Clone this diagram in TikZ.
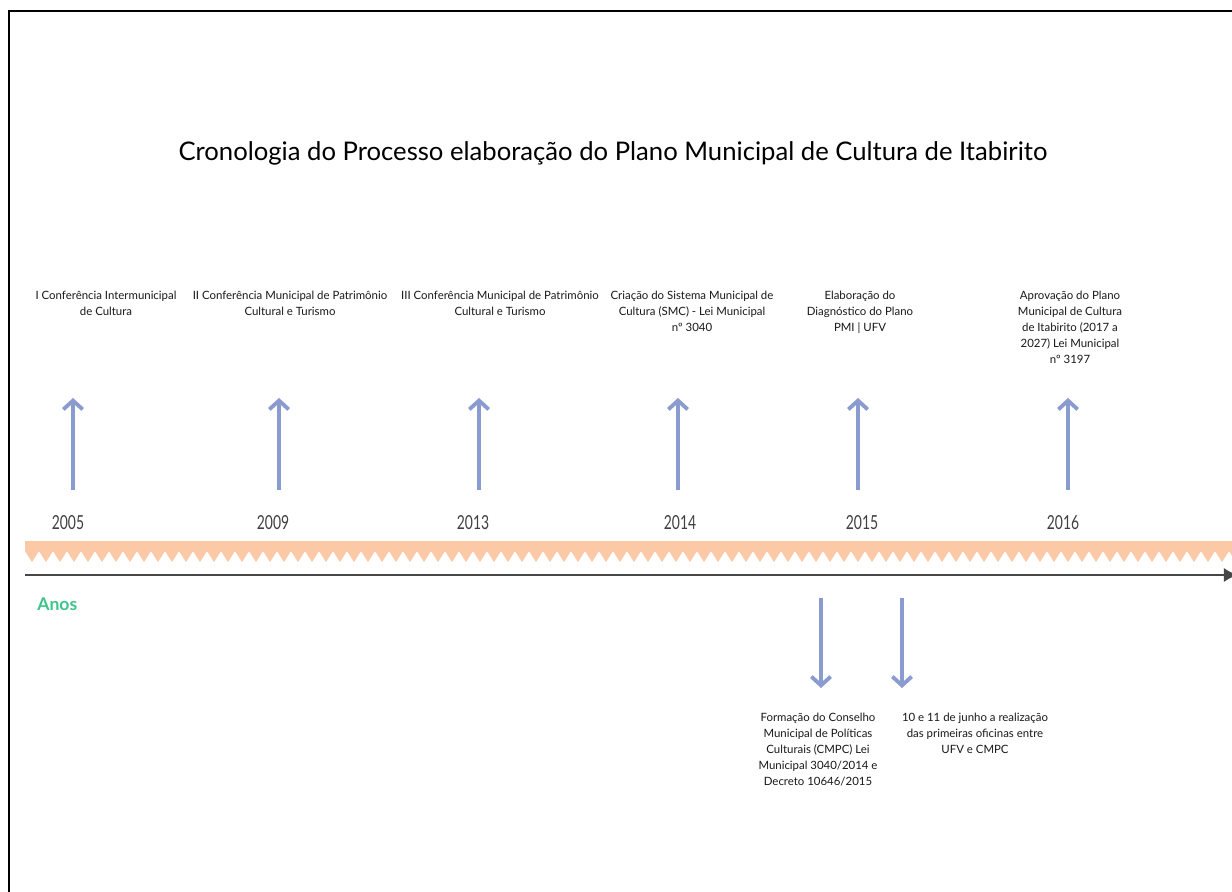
\documentclass[tikz,border=0pt]{standalone}
\usepackage{fontspec}
\setmainfont{Lato}
\newfontfamily\yearfont[FakeStretch=0.72]{Lato}
\usetikzlibrary{arrows.meta}

\definecolor{arrowblue}{HTML}{8A9BD0}
\definecolor{bandpeach}{HTML}{FCC9A6}
\definecolor{anosgreen}{HTML}{3CC68A}

\begin{document}
\begin{tikzpicture}[x = 0.02cm, y = -0.02cm,
    event/.style = {align = center, anchor = north, inner sep = 0pt, text = black!90,
                    font = \fontsize{6.5}{9}\selectfont},
    year/.style  = {inner sep = 0pt, text = black!75, font = \yearfont\fontsize{11}{13}\selectfont},
    tick/.style  = {draw = arrowblue, line width = 2.2pt, -{Straight Barb[length = 5pt, width = 11pt]}},
    axis/.style  = {draw = black!72, line width = 1.1pt, -{Latex[length = 8pt, width = 8pt]}}]
  \useasboundingbox (0,0) rectangle (1232,892);
  \fill[white] (0,0) rectangle (1232,892);
  % frame
  \draw[line width = 1.7pt] (9,900) -- (9,11) -- (1240,11);

  \node (title) at (613,153) {\fontsize{14.6}{18}\selectfont Cronologia do Processo elaboração do Plano Municipal de Cultura de Itabirito};

  % events above the line
  \node[event] (ev1) at (106,291) {I Conferência Intermunicipal\\de Cultura};
  \node[event] (ev2) at (290,291) {II Conferência Municipal de Patrimônio\\Cultural e Turismo};
  \node[event] (ev3) at (500,291) {III Conferência Municipal de Patrimônio\\Cultural e Turismo};
  \node[event] (ev4) at (692,291) {Criação do Sistema Municipal de\\Cultura (SMC) - Lei Municipal\\nº 3040};
  \node[event] (ev5) at (860,291) {Elaboração do\\Diagnóstico do Plano\\PMI | UFV};
  \node[event] (ev6) at (1070,291) {Aprovação do Plano\\Municipal de Cultura\\de Itabirito (2017 a\\2027) Lei Municipal\\nº 3197};

  \coordinate (u1) at (73,490);   \coordinate (h1) at (73,398);
  \coordinate (u2) at (279,490);  \coordinate (h2) at (279,398);
  \coordinate (u3) at (479,490);  \coordinate (h3) at (479,398);
  \coordinate (u4) at (678,490);  \coordinate (h4) at (678,398);
  \coordinate (u5) at (858,490);  \coordinate (h5) at (858,398);
  \coordinate (u6) at (1068,490); \coordinate (h6) at (1068,398);
  \path (u1) edge[tick] (h1)
        (u2) edge[tick] (h2)
        (u3) edge[tick] (h3)
        (u4) edge[tick] (h4)
        (u5) edge[tick] (h5)
        (u6) edge[tick] (h6);

  % years
  \node[year] (y2005) at (68,523)   {2005};
  \node[year] (y2009) at (273,523)  {2009};
  \node[year] (y2013) at (473,523)  {2013};
  \node[year] (y2014) at (680,523)  {2014};
  \node[year] (y2015) at (862,523)  {2015};
  \node[year] (y2016) at (1063,523) {2016};

  % serrated band
  \fill[bandpeach] (25,541) rectangle (1240,552);
  \fill[bandpeach] (25,551) \foreach \i in {0,...,86} { -- ++(7,11) -- ++(7,-11) } -- cycle;

  % time axis
  \coordinate (ax0) at (25,575);
  \coordinate (ax1) at (1238,575);
  \draw[axis] (ax0) -- (ax1);
  \node[anchor = west, inner sep = 0pt, text = anosgreen, font = \bfseries\fontsize{10}{12}\selectfont] (anos) at (37,604) {Anos};

  % events below the line
  \coordinate (d1) at (821,598); \coordinate (e1) at (821,688);
  \coordinate (d2) at (902,598); \coordinate (e2) at (902,688);
  \path (d1) edge[tick] (e1)
        (d2) edge[tick] (e2);
  \node[event] (ev7) at (818,713) {Formação do Conselho\\Municipal de Políticas\\Culturais (CMPC) Lei\\Municipal 3040/2014 e\\Decreto 10646/2015};
  \node[event] (ev8) at (975,713) {10 e 11 de junho a realização\\das primeiras oficinas entre\\UFV e CMPC};
\end{tikzpicture}
\end{document}
